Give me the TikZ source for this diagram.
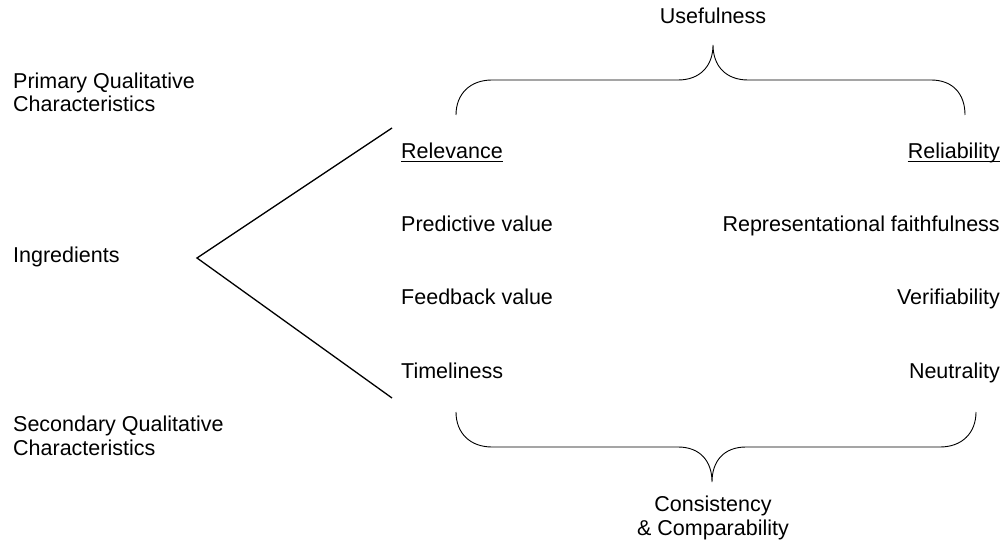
\documentclass[tikz,border=0pt]{standalone}
\usepackage{fontspec}
\setmainfont{Liberation Sans}
\tikzset{
  label text/.style={inner sep=0pt, font=\fontsize{21.5}{23.5}\selectfont},
  fork line/.style={line width=1.3pt},
  brace line/.style={line width=0.9pt}
}
\begin{document}
\begin{tikzpicture}[x=1pt, y=-1pt]
    \useasboundingbox (0,0) rectangle (1006,545);

    % left side titles
    \node[label text, anchor=base west, align=left] (primary) at (13,112) {Primary Qualitative\\Characteristics};
    \node[label text, anchor=base west] (ingredients) at (13,263) {Ingredients};
    \node[label text, anchor=base west, align=left] (secondary) at (13,455) {Secondary Qualitative\\Characteristics};

    % fork
    \coordinate (fork) at (197,258);
    \coordinate (forkup) at (392,128);
    \coordinate (forkdown) at (392,398);
    \draw[fork line] (forkup) -- (fork) -- (forkdown);

    % relevance column
    \node[label text, anchor=base west] (relevance) at (401,159) {Relevance};
    \node[label text, anchor=base west] (predictive) at (401,232) {Predictive value};
    \node[label text, anchor=base west] (feedback) at (401,305) {Feedback value};
    \node[label text, anchor=base west] (timeliness) at (401,378) {Timeliness};

    % reliability column
    \node[label text, anchor=base east] (reliability) at (1000,159) {Reliability};
    \node[label text, anchor=base east] (faithful) at (1000,232) {Representational faithfulness};
    \node[label text, anchor=base east] (verifiable) at (1000,305) {Verifiability};
    \node[label text, anchor=base east] (neutrality) at (1000,378) {Neutrality};

    %% underlines
    \draw[line width=1.2pt] ([yshift=-2.5pt]relevance.base west) -- ([yshift=-2.5pt]relevance.base east);
    \draw[line width=1.2pt] ([yshift=-2.5pt]reliability.base west) -- ([yshift=-2.5pt]reliability.base east);

    % top brace
    \node[label text, anchor=base] (usefulness) at (713,24) {Usefulness};
    \draw[brace line] (456,115) .. controls (456,94) and (470,80) .. (492,80)
      -- (678,80) .. controls (700,80) and (713,66) .. (713,45)
      .. controls (713,66) and (726,80) .. (748,80)
      -- (931,80) .. controls (953,80) and (965,94) .. (965,115);

    % bottom brace
    \node[label text, anchor=base, align=center] (consistency) at (713,535) {Consistency\\\& Comparability};
    \draw[brace line] (456,412) .. controls (456,433) and (470,447) .. (492,447)
      -- (678,447) .. controls (700,447) and (712,461) .. (712,482)
      .. controls (712,461) and (724,447) .. (746,447)
      -- (940,447) .. controls (962,447) and (976,433) .. (976,412);
\end{tikzpicture}
\end{document}
